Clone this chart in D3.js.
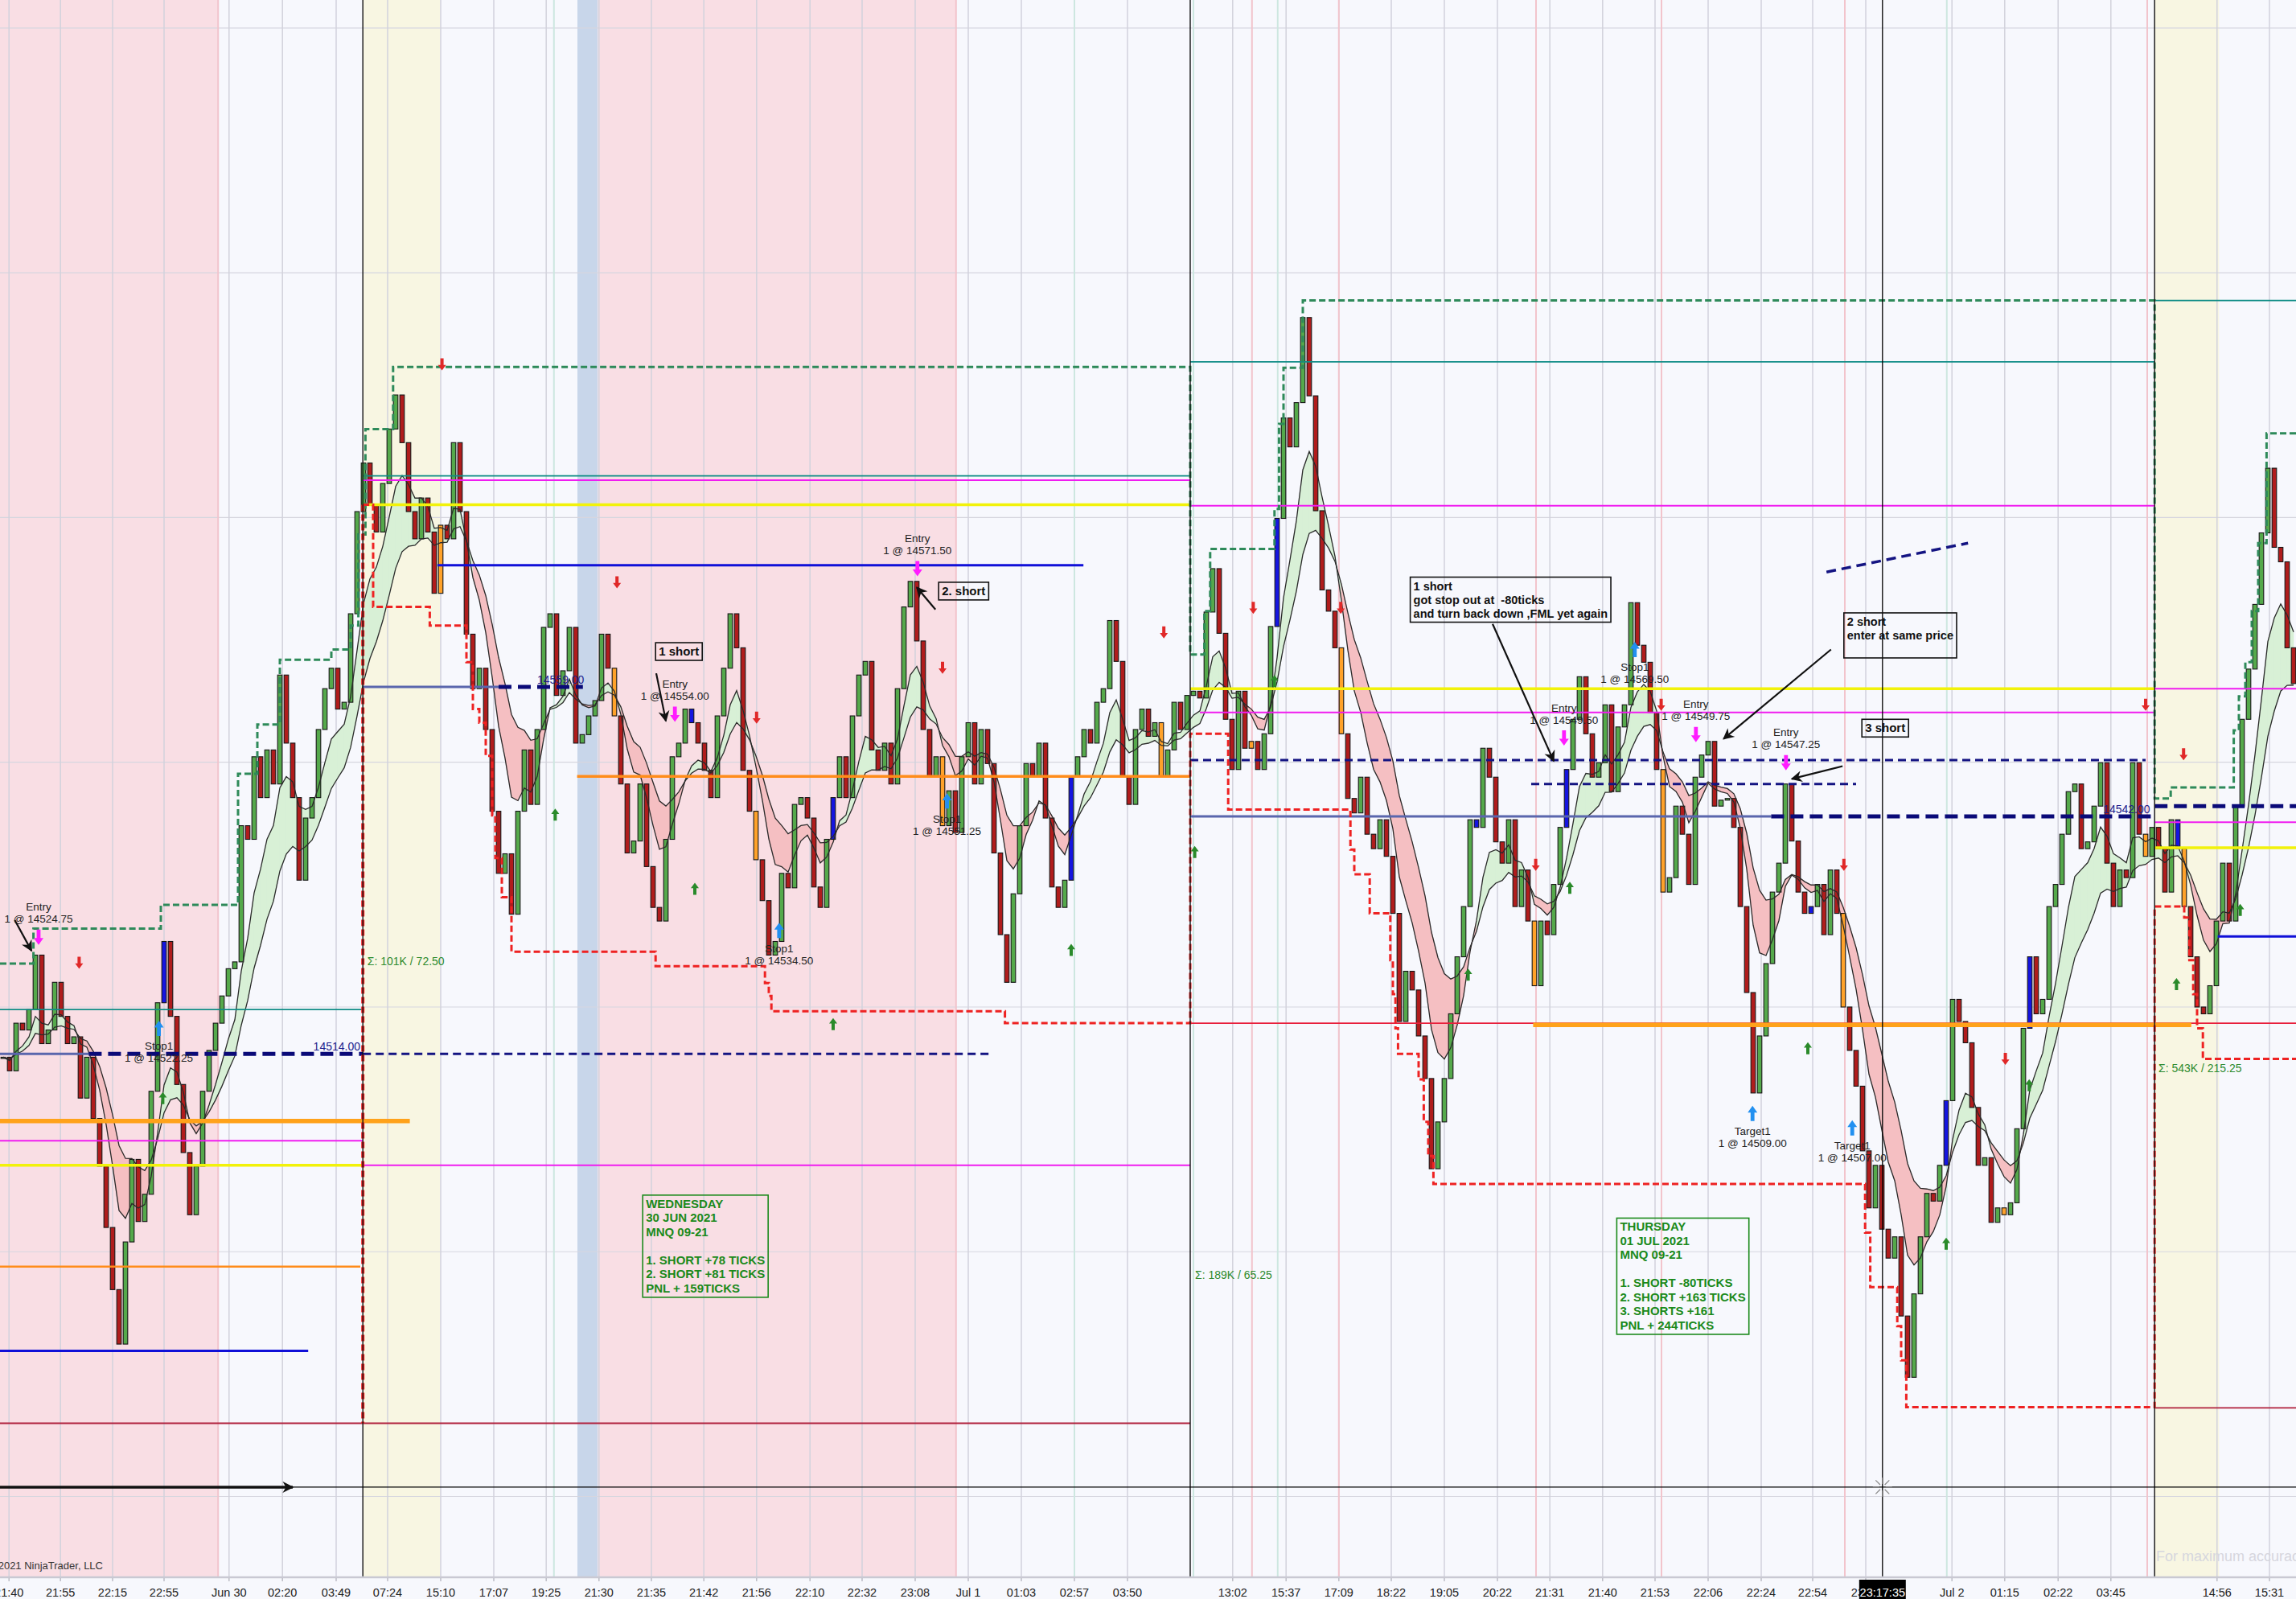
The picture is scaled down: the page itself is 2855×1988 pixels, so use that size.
<!DOCTYPE html>
<html><head><meta charset="utf-8">
<script src="https://cdn.jsdelivr.net/npm/d3@7"></script>
<style>html,body{margin:0;padding:0;background:#f7f8fd;overflow:hidden}text{white-space:pre}</style>
</head><body><svg id="c" width="2855" height="1988"></svg>
<script>
// ---------------- DATA ----------------
const closes = [
14513.6,14512,14517.6,14516.8,14519.2,14525.6,14515.2,14516.8,14522.4,14518.4,
14515.2,14516,14508.8,14513.6,14506.4,14500.8,14493.6,14486.3,14479.9,14491.9,
14501.6,14494.3,14497.5,14509.6,14520,14527.2,14518.4,14510.4,14502.4,14495.1,
14500.8,14509.6,14514.4,14517.6,14520.8,14524,14524.8,14540.8,14539.2,14548.9,
14544.1,14549.7,14545.7,14558.5,14550.5,14544.1,14534.4,14541.7,14544.1,14552.1,
14556.9,14559.3,14554.5,14555.3,14565.7,14577.7,14583.4,14578.5,14575.3,14581,
14587.4,14591.4,14585.8,14577.7,14574.5,14579.3,14575.3,14568.1,14576.1,14574.5,
14585.8,14577.7,14563.3,14556.9,14559.3,14552.1,14542.5,14535.2,14537.5,14530.4,
14542.5,14549.7,14543.3,14552.1,14564.1,14565.7,14556.1,14559,14564.1,14550.5,
14551.5,14553.7,14555.5,14563.3,14559.3,14553.7,14545.7,14537.6,14539,14545.7,
14536,14531.2,14529.6,14539.2,14548.9,14550.5,14554.5,14552.9,14550.5,14547.3,
14544.1,14553.7,14559.3,14565.7,14561.7,14547.3,14542.5,14536.8,14532,14525.6,
14527.2,14535.2,14533.5,14543.3,14544.1,14541.7,14533.6,14531.2,14539.2,14544.1,
14548.9,14544.1,14553.7,14558.5,14560.1,14549.7,14547.3,14550.5,14545.7,14556.9,
14566.5,14569.5,14562.5,14552.1,14546.5,14548.9,14540.8,14544.9,14540,14548.9,
14552.9,14545.7,14552.1,14548.1,14537.6,14528,14522.4,14532.8,14540.8,14548.1,
14546.5,14550.5,14541.7,14533.6,14531.2,14534.4,14546.5,14548.9,14552.1,14550.5,
14555.3,14556.9,14564.9,14560.1,14546.5,14543.3,14552.1,14554.5,14551.3,14552.9,
14546.5,14549.7,14555.3,14552.1,14556.1,14556.6,14555.8,14565.9,14571,14563.4,
14553.3,14547.4,14556.6,14549.9,14550.7,14547.4,14551.6,14564.2,14576.9,14588.7,
14585.3,14590.5,14600.5,14591.3,14577.8,14568.5,14566,14561.7,14551.6,14544,
14542.3,14546.5,14539.8,14538.1,14541.5,14537.2,14530.5,14517.8,14523.7,14521.5,
14516.1,14511.1,14500.5,14506,14511.1,14518.7,14525.4,14531.3,14541.5,14540.6,
14549.9,14546.5,14538.9,14536.4,14541.5,14531.3,14535.6,14529.6,14522,14529.6,
14528,14533.9,14540.6,14547.4,14553.3,14558.3,14551.6,14546.5,14548.2,14555,
14544.8,14552.4,14555,14567,14562,14560,14554.1,14547.4,14533,14534.7,
14543.1,14539.8,14533.9,14546.5,14549.1,14550.7,14543.1,14543.8,14544,14540.6,
14531.3,14521.2,14509.4,14516.1,14524.6,14533,14536.4,14545.7,14539,14533,
14530.5,14531.3,14533.9,14528,14535.6,14530.5,14519.5,14514.4,14510.2,14502.6,
14495.9,14500.9,14493.4,14490,14492.5,14483.2,14476,14485.8,14492.5,14497.6,
14496.7,14500.9,14508.5,14520.4,14517.8,14515.3,14507.7,14500.9,14501.8,14494.2,
14495.9,14495.1,14496.5,14505.2,14517,14525.4,14518.7,14520.4,14531.3,14533.9,
14539.8,14544.8,14545.7,14538.1,14538.9,14543.1,14548.2,14536.4,14531.3,14535.6,
14534.7,14548.2,14539.8,14537.2,14540.6,14538.1,14533,14541.5,14538.1,14531.3,
14525.4,14519.5,14518.7,14522,14529.6,14536.4,14529.6,14543.1,14553.3,14559.2,
14566.8,14575.2,14582.8,14573.5,14571.8,14561.7,14557.5];

const blueBars = [25,107,129,166,198,229,243,281,302,315,338];
const orangeBars = [68,95,117,146,180,194,208,238,258,286,311,333,339];

const timeLabels = [["21:40",0.9],["21:55",8.9],["22:15",17],["22:55",25],["Jun 30",35.1],["02:20",43.4],
["03:49",51.75],["07:24",59.75],["15:10",68],["17:07",76.25],["19:25",84.4],["21:30",92.6],["21:35",100.75],
["21:42",108.9],["21:56",117.1],["22:10",125.4],["22:32",133.5],["23:08",141.75],["Jul 1",150],["01:03",158.25],
["02:57",166.5],["03:50",174.75],["13:02",191.1],["15:37",199.4],["17:09",207.6],["18:22",215.75],["19:05",224],
["20:22",232.25],["21:31",240.4],["21:40",248.6],["21:53",256.75],["22:06",265],["22:24",273.25],["22:54",281.25],
["23:05",289.5],["Jul 2",302.9],["01:15",311.1],["02:22",319.4],["03:45",327.6],["14:56",344.1],["15:31",352.25]];

const gridPrices = [14462,14490.75,14519.5,14548.25,14577,14605.75,14634.5];
const pinkSessions = [[-0.5,33.4],[92.4,148.1]];
const creamSessions = [[55.9,67.9],[334.4,344.4]];
const blueSessions = [[89.25,92.4]];
const sessionBreaks = [55.9,184.5,334.4];
const pinkMarks = [33.4,148.1,194.1,207.6,238.25,257.75,286.25,333.25];
const tealMarks = [85.6,166.5,185,198.1,302.1];

// [price, fromBar, toBar, kind]
const levels = [
[14519.2,-0.5,55.9,"teal"],[14514,-0.5,13.3,"slate"],[14514,13.3,55.9,"navyThick"],[14514,55.9,153.9,"navy"],
[14506.1,-0.5,63.2,"orangeThick"],[14503.8,-0.5,55.9,"magenta"],[14500.9,-0.5,55.9,"yellow"],
[14489,-0.5,55.5,"orangeThin"],[14479.1,-0.5,47.4,"blue"],[14470.6,-0.5,184.5,"darkred"],
[14581.9,55.9,184.5,"teal"],[14581.4,55.9,184.5,"magenta"],[14578.5,55.9,184.5,"yellow"],
[14571.4,67.5,167.9,"blue"],[14557.1,55.9,77,"slate"],[14557.1,77,90.1,"navyThick"],
[14546.6,89.2,184.5,"orange"],[14500.9,55.9,184.5,"magenta"],
[14595.3,184.5,334.4,"teal"],[14578.4,184.5,334.4,"magenta"],[14556.9,184.5,334.4,"yellow"],
[14554.1,186,334.4,"magenta"],[14548.5,184.5,333,"navy"],[14545.7,237.5,288,"navy"],
[14541.9,184.5,274.8,"slate"],[14541.9,274.8,334.4,"navyThick"],[14517.6,184.5,357,"red"],
[14517.4,237.8,340.1,"orangeThick"],
[14602.5,334.4,357,"teal"],[14556.9,334.4,357,"magenta"],[14541.2,334.4,357,"magenta"],
[14543.1,334.4,357,"navyThick"],[14538.2,334.4,357,"yellow"],[14527.8,344.2,357,"blue"],
[14472.4,334.4,357,"darkred"]];
const slopedLine = [[283.4,14570.6],[305.4,14574.0]];
const levelLabels = [["14514.00",55.5,14514],["14559.00",90.3,14557.1],["14542.00",333.7,14541.9]];

const highSteps = [[-0.5,14524.6],[4.7,14528.7],[24.5,14531.5],[36.5,14546.9],[39.5,14552.7],[43,14560.3],
[51,14561.5],[54,14564.3],[55.2,14575],[56.3,14587.4],[60.6,14594.7],[184.5,14560.9],[186.7,14566],
[187.6,14573.3],[197.6,14578],[198.3,14588],[199,14594.6],[202,14602.5],[334.4,14544],[336.9,14545.3],
[346.7,14552],[347.5,14556],[348.5,14560],[349.5,14566],[350.5,14574],[351.8,14586.9],[357,14586.9]];
const lowSteps = [[55.9,14578.5],[57.5,14566.5],[66.3,14564.3],[72,14560],[73,14554.5],[74,14552.9],[75,14549],
[76,14542],[76.5,14537],[77.5,14532.4],[79,14526],[101.4,14524.3],[118.4,14522.3],[119,14520.8],[119.4,14519],
[155.7,14517.6],[184.5,14551.6],[190.4,14542.7],[209.4,14538],[210,14535.1],[212.4,14530.5],[215.6,14525],
[216,14521],[216.4,14517],[216.8,14514],[220,14511],[220.8,14506],[221.5,14502],[222.3,14498.7],[289.4,14493],
[290.2,14486.6],[294.4,14482],[295,14478],[295.8,14472.5],[334.4,14531.3],[339,14530],[339.8,14525],
[340.4,14521],[341,14517],[341.9,14513.4],[357,14513.4]];
const lowVerticals = [[55.9,14578.5,14470.6]];

const sellSignals = [[11.8,14524.7],[68.2,14595],[95.4,14569.4],[117.1,14553.5],[146,14559.35],[180.4,14563.5],
[194.3,14566.4],[207.9,14566.4],[238.2,14536.2],[257.7,14555],[286.1,14536.2],[311.2,14513.4],[333,14555],[338.9,14549.2]];
const buySignals = [[24.8,14508.8],[85.8,14542.1],[107.5,14533.4],[129,14517.5],[166,14526.2],[185.2,14537.7],
[197.6,14557.8],[227.7,14523.3],[243.5,14533.5],[280.5,14514.65],[302,14491.7],[314.9,14510.3],[337.8,14522.2],[347.7,14530.9]];

const entries = [[5.5,14527.7,"Entry","1 @ 14524.75"],[104.4,14553.9,"Entry","1 @ 14554.00"],
[142.1,14571.0,"Entry","1 @ 14571.50"],[242.6,14551.1,"Entry","1 @ 14549.50"],
[263.1,14551.5,"Entry","1 @ 14549.75"],[277.1,14548.2,"Entry","1 @ 14547.25"]];
const exits = [[24.2,14517,"Stop1","1 @ 14522.25"],[120.6,14528.5,"Stop1","1 @ 14534.50"],
[146.7,14543.7,"Stop1","1 @ 14551.25"],[253.6,14561.5,"Stop1","1 @ 14569.50"],
[271.9,14507.0,"Target1","1 @ 14509.00"],[287.4,14505.3,"Target1","1 @ 14507.00"]];

const notes = [[101.4,14562.3,["1 short"]],[145.4,14569.4,["2. short"]],[288.9,14553.3,["3 short"]],
[218.7,14570.0,["1 short","got stop out at  -80ticks","and turn back down ,FML yet again"]],
[286.1,14565.8,["2 short","enter at same price",""]]];
const noteArrows = [[[101.5,14558.7],[103,14553.1]],[[144.9,14566.2],[142,14568.8]],[[231.5,14564.5],[241,14548.4]],
[[284.1,14561.5],[267.4,14551]],[[285.9,14547.8],[278,14546.3]],[[1.8,14529.7],[4.4,14526.1]]];
const bottomArrow = [[-0.5,14463.1],[45,14463.1]];
const summaries = [[99.4,14497.4,["WEDNESDAY","30 JUN 2021","MNQ 09-21","","1. SHORT +78 TICKS","2. SHORT +81 TICKS","PNL + 159TICKS"]],
[250.8,14494.7,["THURSDAY","01 JUL 2021","MNQ 09-21","","1. SHORT -80TICKS","2. SHORT +163 TICKS","3. SHORTS +161","PNL + 244TICKS"]]];
const volumeNotes = [["Σ: 101K / 72.50",56.6,14524.9],["Σ: 189K / 65.25",185.25,14488.0],["Σ: 543K / 215.25",335,14512.3]];
const crosshair = {bar:292.1, price:14463.1, label:"23:17:35"};

// ---------------- DRAW ----------------
const W=2855, H=1988, PB=1960;
const FONT = "Arial, 'Liberation Sans', sans-serif";
const x = d3.scaleLinear().domain([0,356]).range([4,2852]);
const y = d3.scaleLinear().domain([14452.6,14637.8]).range([PB,0]);
const svg = d3.select("#c");
const defs = svg.append("defs");
defs.append("clipPath").attr("id","plot").append("rect").attr("x",0).attr("y",0).attr("width",W).attr("height",PB);
defs.append("marker").attr("id","ah").attr("viewBox","0 0 10 10").attr("refX",9).attr("refY",5)
  .attr("markerWidth",16).attr("markerHeight",14).attr("markerUnits","userSpaceOnUse").attr("orient","auto")
  .append("path").attr("d","M0,0L10,5L0,10L3,5Z").attr("fill","#111");

svg.append("rect").attr("width",W).attr("height",H).attr("fill","#f7f8fd");
const g = svg.append("g").attr("clip-path","url(#plot)");

const band = (arr,fill)=> g.selectAll(null).data(arr).enter().append("rect")
  .attr("x",d=>x(d[0])).attr("width",d=>x(d[1])-x(d[0])).attr("y",0).attr("height",PB).attr("fill",fill);
band(pinkSessions,"#f9dee4"); band(creamSessions,"#f8f6e2"); band(blueSessions,"#c8d6ea");

// grid
g.selectAll(null).data(gridPrices).enter().append("line").attr("x1",0).attr("x2",W)
  .attr("y1",d=>y(d)).attr("y2",d=>y(d)).attr("stroke","#d6d6df").attr("stroke-width",1.2);
g.selectAll(null).data(timeLabels).enter().append("line").attr("x1",d=>x(d[1])).attr("x2",d=>x(d[1]))
  .attr("y1",0).attr("y2",PB).attr("stroke","#d2d2dc").attr("stroke-width",1.5);
g.selectAll(null).data(pinkMarks).enter().append("line").attr("x1",d=>x(d)).attr("x2",d=>x(d))
  .attr("y1",0).attr("y2",PB).attr("stroke","#f2c4cc").attr("stroke-width",2);
g.selectAll(null).data(tealMarks).enter().append("line").attr("x1",d=>x(d)).attr("x2",d=>x(d))
  .attr("y1",0).attr("y2",PB).attr("stroke","#cde7e0").attr("stroke-width",2);

// moving averages
function ema(a,n){const k=2/(n+1);const o=[a[0]];for(let i=1;i<a.length;i++)o.push(a[i]*k+o[i-1]*(1-k));return o;}
const fast = ema(closes,7), slow = ema(closes,14);
for(let i=0;i<closes.length-1;i++){
  const c = fast[i]>=slow[i] ? "#d8f0d6" : "#f5bfc2";
  g.append("path").attr("d",`M${x(i)},${y(fast[i])}L${x(i+1)},${y(fast[i+1])}L${x(i+1)},${y(slow[i+1])}L${x(i)},${y(slow[i])}Z`)
   .attr("fill",c).attr("stroke",c).attr("stroke-width",0.6);
}

// candles
const cg = g.append("g");
closes.forEach((c,i)=>{
  const o = i? closes[i-1] : c;
  const t = y(Math.max(o,c)), b = y(Math.min(o,c));
  let fill = c>=o ? "#55a94b" : "#b01c1c";
  if (blueBars.includes(i)) fill = "#1515e0";
  if (orangeBars.includes(i)) fill = "#ffa22a";
  cg.append("rect").attr("x",x(i)-2.8).attr("width",5.6).attr("y",t).attr("height",Math.max(1.5,b-t))
    .attr("fill",fill).attr("stroke","#141414").attr("stroke-width",1.1);
});
const line = d3.line().x(d=>x(d[0])).y(d=>y(d[1]));
g.append("path").attr("d",line(fast.map((v,i)=>[i,v]))).attr("fill","none").attr("stroke","#2a2a2a").attr("stroke-width",1.3);
g.append("path").attr("d",line(slow.map((v,i)=>[i,v]))).attr("fill","none").attr("stroke","#2a2a2a").attr("stroke-width",1.3);

// levels
const styles = {
  teal:{c:"#0f8c86",w:1.8}, slate:{c:"#5a66ad",w:3}, navyThick:{c:"#0a0a78",w:5,d:"16,8"}, navy:{c:"#141482",w:3,d:"10,6"},
  orangeThick:{c:"#ffa21a",w:5.5}, orange:{c:"#ff8c1a",w:3.5}, orangeThin:{c:"#ff8c1a",w:2.5}, magenta:{c:"#f01cf0",w:2},
  yellow:{c:"#f2f20a",w:3.5}, blue:{c:"#1010d8",w:3}, darkred:{c:"#b0203c",w:1.8}, red:{c:"#e8203c",w:1.8}};
levels.forEach(l=>{const s=styles[l[3]];
  g.append("line").attr("x1",x(l[1])).attr("x2",x(l[2])).attr("y1",y(l[0])).attr("y2",y(l[0]))
   .attr("stroke",s.c).attr("stroke-width",s.w).attr("stroke-dasharray",s.d||null);});
g.append("path").attr("d",line(slopedLine)).attr("stroke","#141482").attr("stroke-width",3.5).attr("stroke-dasharray","12,7").attr("fill","none");
levelLabels.forEach(l=>g.append("text").attr("x",x(l[1])).attr("y",y(l[2])-4).attr("text-anchor","end")
  .attr("font-family",FONT).attr("font-size",14).attr("fill","#1c1c8c").text(l[0]));

// session high / low trackers
const step = d3.line().x(d=>x(d[0])).y(d=>y(d[1])).curve(d3.curveStepAfter);
g.append("path").attr("d",step(highSteps)).attr("fill","none").attr("stroke","#2e8a5a").attr("stroke-width",3).attr("stroke-dasharray","8,4");
g.append("path").attr("d",step(lowSteps)).attr("fill","none").attr("stroke","#ee2222").attr("stroke-width",3).attr("stroke-dasharray","8,4");
lowVerticals.forEach(v=>g.append("line").attr("x1",x(v[0])).attr("x2",x(v[0])).attr("y1",y(v[1])).attr("y2",y(v[2]))
  .attr("stroke","#ee2222").attr("stroke-width",4).attr("stroke-dasharray","8,4"));

// session breaks + crosshair
g.selectAll(null).data(sessionBreaks).enter().append("line").attr("x1",d=>x(d)).attr("x2",d=>x(d))
  .attr("y1",0).attr("y2",PB).attr("stroke","#111").attr("stroke-width",1.4);
g.append("line").attr("x1",x(crosshair.bar)).attr("x2",x(crosshair.bar)).attr("y1",0).attr("y2",PB).attr("stroke","#000").attr("stroke-width",1.3);
g.append("line").attr("x1",0).attr("x2",W).attr("y1",y(crosshair.price)).attr("y2",y(crosshair.price)).attr("stroke","#000").attr("stroke-width",1.3);
for(let a=0;a<8;a++){const an=a*Math.PI/4, cx=x(crosshair.bar), cy=y(crosshair.price);
  g.append("line").attr("x1",cx+4*Math.cos(an)).attr("y1",cy+4*Math.sin(an)).attr("x2",cx+12*Math.cos(an)).attr("y2",cy+12*Math.sin(an))
   .attr("stroke","#888").attr("stroke-width",1.2);}

// arrows
function arrow(cx,cy,down,w,h){const hw=w/2, sw=w*0.2, hh=h*0.45, s=down?1:-1, t=cy-s*h/2;
  return `M${cx-sw},${t}L${cx+sw},${t}L${cx+sw},${t+s*(h-hh)}L${cx+hw},${t+s*(h-hh)}L${cx},${t+s*h}L${cx-hw},${t+s*(h-hh)}L${cx-sw},${t+s*(h-hh)}Z`;}
sellSignals.forEach(d=>g.append("path").attr("d",arrow(x(d[0]),y(d[1]),true,10,15)).attr("fill","#e02828"));
buySignals.forEach(d=>g.append("path").attr("d",arrow(x(d[0]),y(d[1]),false,10,15)).attr("fill","#2a8a2a"));

const tl = (tx,ty,t)=>g.append("text").attr("x",tx).attr("y",ty).attr("text-anchor","middle").attr("font-family",FONT)
  .attr("font-size",13.5).attr("fill","#222").text(t);
entries.forEach(d=>{const cx=x(d[0]), cy=y(d[1]);
  g.append("path").attr("d",arrow(cx,cy,true,12,19)).attr("fill","#ff1cff");
  tl(cx,cy-18,d[3]); tl(cx,cy-33,d[2]);});
exits.forEach(d=>{const cx=x(d[0]), cy=y(d[1]);
  g.append("path").attr("d",arrow(cx,cy,false,12,19)).attr("fill","#2290f0");
  tl(cx,cy+27,d[2]); tl(cx,cy+42,d[3]);});

// annotation arrows
noteArrows.forEach(a=>g.append("line").attr("x1",x(a[0][0])).attr("y1",y(a[0][1])).attr("x2",x(a[1][0])).attr("y2",y(a[1][1]))
  .attr("stroke","#111").attr("stroke-width",2.2).attr("marker-end","url(#ah)"));
g.append("line").attr("x1",x(bottomArrow[0][0])).attr("y1",y(bottomArrow[0][1])).attr("x2",x(bottomArrow[1][0])).attr("y2",y(bottomArrow[1][1]))
  .attr("stroke","#111").attr("stroke-width",3.5).attr("marker-end","url(#ah)");

// text boxes
function box(bar,price,lines,opt){
  const left=x(bar), top=y(price);
  const tg=g.append("g"); let mw=0;
  lines.forEach((t,k)=>{const n=tg.append("text").attr("x",left+opt.pad).attr("y",top+opt.first+k*opt.lh)
    .attr("font-family",FONT).attr("font-size",opt.fs).attr("font-weight","bold").attr("fill",opt.c).text(t);
    if(t) mw=Math.max(mw,n.node().getComputedTextLength());});
  tg.insert("rect","text").attr("x",left).attr("y",top).attr("width",mw+opt.pad*2).attr("height",opt.first+(lines.length-1)*opt.lh+opt.bot)
    .attr("fill","none").attr("stroke",opt.c).attr("stroke-width",1.6);
}
notes.forEach(n=>box(n[0],n[1],n[2],{pad:4,first:16,lh:17,bot:6,fs:n[2].length>1?14.5:15,c:"#111"}));
summaries.forEach(s=>box(s[0],s[1],s[2],{pad:4,first:16,lh:17.5,bot:6,fs:15,c:"#1b8a1b"}));
volumeNotes.forEach(v=>g.append("text").attr("x",x(v[1])).attr("y",y(v[2])+5).attr("font-family",FONT)
  .attr("font-size",14).attr("fill","#2e8b2e").text(v[0]));

g.append("text").attr("x",128).attr("y",1951).attr("text-anchor","end").attr("font-family",FONT).attr("font-size",13)
  .attr("fill","#333").text("© 2021 NinjaTrader, LLC");
g.append("text").attr("x",2681).attr("y",1941).attr("font-family",FONT).attr("font-size",18)
  .attr("fill","#d6d6de").text("For maximum accuracy, use a tick-based chart");

// x axis
svg.append("line").attr("x1",0).attr("x2",W).attr("y1",PB+1).attr("y2",PB+1).attr("stroke","#c9c9d3").attr("stroke-width",2.5);
svg.selectAll(null).data(timeLabels).enter().append("line").attr("x1",d=>x(d[1])).attr("x2",d=>x(d[1]))
  .attr("y1",PB+2).attr("y2",PB+6).attr("stroke","#bdbdc6").attr("stroke-width",1.5);
svg.selectAll(null).data(timeLabels).enter().append("text").attr("x",d=>x(d[1])).attr("y",1985)
  .attr("text-anchor","middle").attr("font-family",FONT).attr("font-size",14.5).attr("fill","#222").text(d=>d[0]);
const chx = x(crosshair.bar);
svg.append("rect").attr("x",chx-29).attr("y",1964).attr("width",58).attr("height",24).attr("fill","#000");
svg.append("text").attr("x",chx).attr("y",1985).attr("text-anchor","middle").attr("font-family",FONT)
  .attr("font-size",14.5).attr("fill","#fff").text(crosshair.label);
</script></body></html>
